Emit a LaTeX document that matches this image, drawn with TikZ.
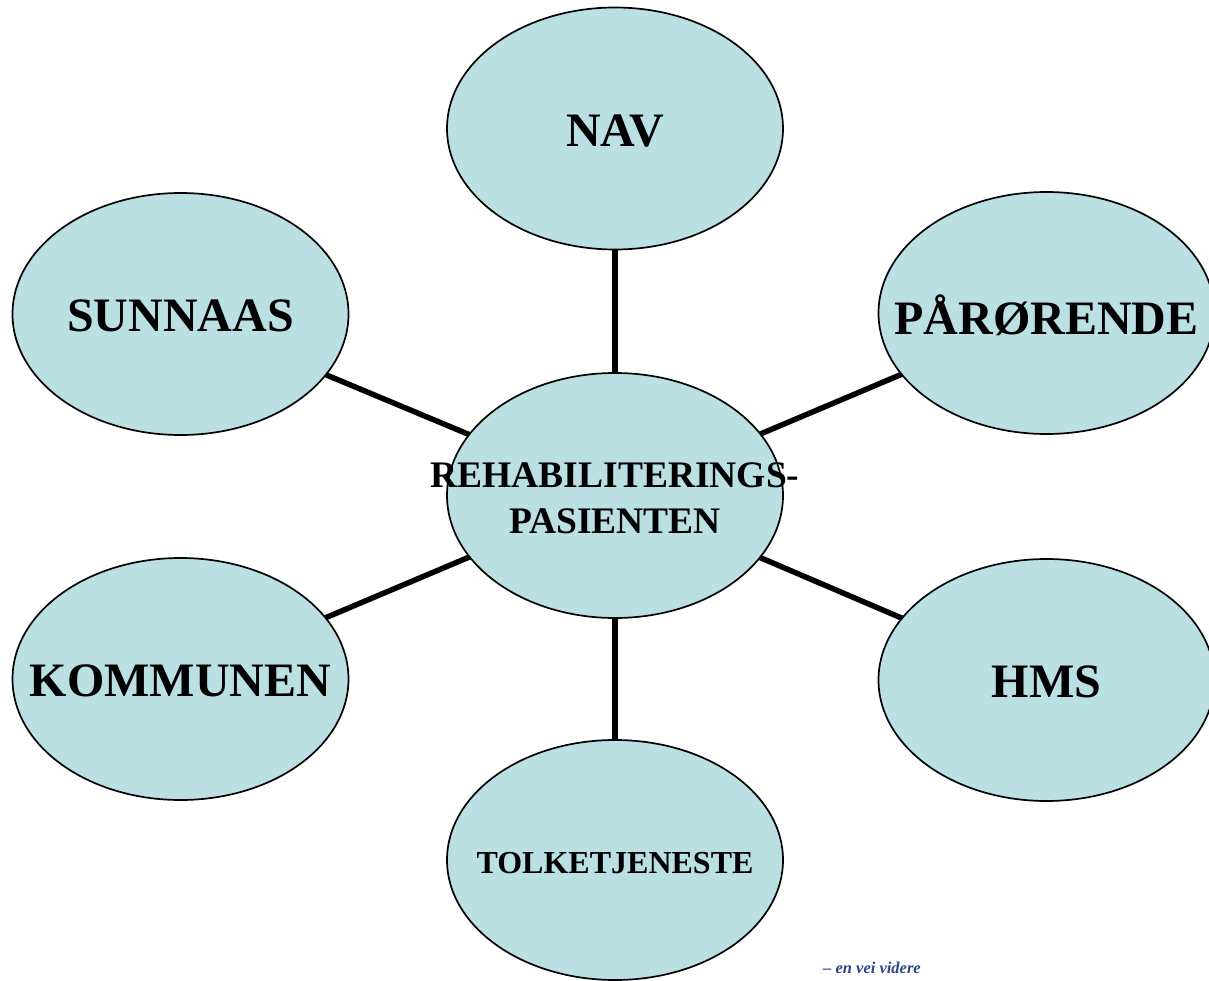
\documentclass[tikz,border=0pt]{standalone}
\usepackage{fontspec}
\setmainfont{Liberation Serif}
\usetikzlibrary{shapes.geometric,backgrounds}
\definecolor{bubble}{RGB}{186,224,228}
\definecolor{tagblue}{RGB}{45,70,135}
\tikzset{
  bubble/.style={ellipse, draw=black, line width=1.7pt, fill=bubble,
    minimum width=336pt, minimum height=242pt, inner sep=0pt},
  bigtxt/.style={inner sep=0pt, font=\fontsize{48}{56}\selectfont\bfseries},
  midtxt/.style={inner sep=0pt, align=center, font=\fontsize{37.5}{46}\selectfont\bfseries},
  smalltxt/.style={inner sep=0pt, font=\fontsize{32}{38}\selectfont\bfseries},
  link/.style={line width=5.5pt, draw=black}
}
\begin{document}
\begin{tikzpicture}[x=1pt,y=-1pt]
\useasboundingbox (0,0) rectangle (1209,981);
\clip (0,0) rectangle (1209,981);
\node[bubble] (nav) at (615,128.5) {};
\node[bubble] (sun) at (180.5,314) {};
\node[bubble] (par) at (1046.5,313) {};
\node[bubble, minimum height=245pt] (cen) at (615,495.5) {};
\node[bubble] (kom) at (180.5,679) {};
\node[bubble] (hms) at (1046.5,680) {};
\node[bubble, minimum height=240pt] (tolk) at (615,860) {};
\begin{scope}[on background layer]
\fill[white] (0,0) rectangle (1209,981);
\draw[link] (cen.center) -- (nav.center);
\draw[link] (cen.center) -- (sun.center);
\draw[link] (cen.center) -- (par.center);
\draw[link] (cen.center) -- (kom.center);
\draw[link] (cen.center) -- (hms.center);
\draw[link] (cen.center) -- (tolk.center);
\end{scope}
\node[bigtxt] (tnav) at ([yshift=-2.5pt]nav.center) {NAV};
\node[bigtxt] (tsun) at ([yshift=-2pt]sun.center) {SUNNAAS};
\node[bigtxt] (tpar) at ([yshift=-2pt]par.center) {PÅRØRENDE};
\node[midtxt] (tcen) at ([yshift=-3pt]cen.center) {REHABILITERINGS-\\PASIENTEN};
\node[bigtxt] (tkom) at ([yshift=-2pt]kom.center) {KOMMUNEN};
\node[bigtxt] (thms) at ([yshift=-2pt]hms.center) {HMS};
\node[smalltxt] (ttolk) at ([yshift=-3pt]tolk.center) {TOLKETJENESTE};
\node[anchor=base west, inner sep=0pt, text=tagblue,
  font=\fontsize{16.5}{19}\selectfont\bfseries\itshape] (tag) at (823,973) {– en vei videre};
\end{tikzpicture}
\end{document}
